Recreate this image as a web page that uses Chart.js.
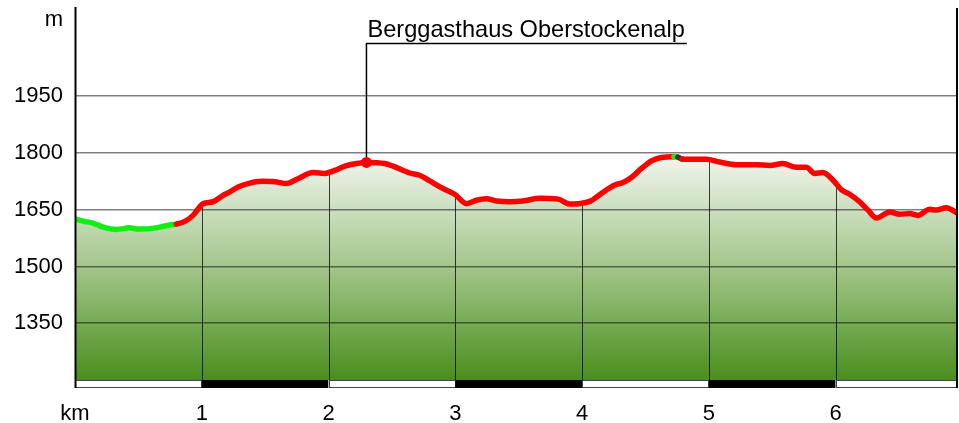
<!DOCTYPE html>
<html><head><meta charset="utf-8">
<script src="https://cdn.jsdelivr.net/npm/chart.js@4/dist/chart.umd.min.js"></script>
<style>html,body{margin:0;padding:0;background:#fff;overflow:hidden}#wrap{width:959px;height:423px;position:relative}</style>
</head><body><div id="wrap"><canvas id="c" width="959" height="423"></canvas></div>
<script>
const distanceKm = [0, 0.077, 0.130, 0.222, 0.327, 0.432, 0.485, 0.590, 0.669, 0.748, 0.800, 0.866, 0.931, 1.010, 1.089, 1.168, 1.221, 1.286, 1.365, 1.471, 1.576, 1.668, 1.759, 1.878, 1.970, 2.049, 2.128, 2.220, 2.299, 2.443, 2.509, 2.640, 2.719, 2.798, 2.903, 2.995, 3.088, 3.166, 3.245, 3.324, 3.429, 3.534, 3.666, 3.810, 3.904, 3.968, 4.061, 4.152, 4.257, 4.323, 4.389, 4.468, 4.547, 4.625, 4.724, 4.756, 4.787, 4.888, 4.980, 5.085, 5.217, 5.375, 5.479, 5.584, 5.690, 5.769, 5.834, 5.900, 5.979, 6.045, 6.110, 6.189, 6.255, 6.321, 6.426, 6.505, 6.584, 6.649, 6.741, 6.794, 6.873, 6.965];
const elevationM = [1625, 1619, 1616, 1604, 1598, 1602, 1599, 1600, 1604, 1610, 1612, 1619, 1635, 1666, 1671, 1688, 1697, 1710, 1719, 1725, 1724, 1719, 1732, 1748, 1746, 1754, 1765, 1772, 1775, 1772, 1765, 1747, 1741, 1726, 1706, 1691, 1666, 1675, 1679, 1673, 1671, 1673, 1680, 1678, 1665, 1666, 1672, 1693, 1715, 1722, 1735, 1759, 1779, 1788, 1790, 1789, 1784, 1783, 1783, 1776, 1769, 1769, 1767, 1772, 1762, 1762, 1746, 1748, 1728, 1703, 1691, 1671, 1649, 1628, 1644, 1638, 1640, 1635, 1651, 1649, 1655, 1640];
const yTicks = [1350, 1500, 1650, 1800, 1950];
const xTicks = [0, 1, 2, 3, 4, 5, 6];
const xTickLabels = ['km', '1', '2', '3', '4', '5', '6'];
const yUnit = 'm';
const greenSections = [[0, 0.8], [4.724, 4.756]];
const darkSections = [[4.756, 4.787]];
const poiName = 'Berggasthaus Oberstockenalp';
const poiKm = 2.299;
const xMax = 6.965, yMin = 1200, yMax = 2183;

const FONT = 'Liberation Sans, Arial, sans-serif';

function elevAt(k) {
  for (let i = 1; i < distanceKm.length; i++) {
    if (k <= distanceKm[i]) {
      const a = distanceKm[i - 1], b = distanceKm[i];
      const t = (k - a) / (b - a);
      return elevationM[i - 1] + t * (elevationM[i] - elevationM[i - 1]);
    }
  }
  return elevationM[elevationM.length - 1];
}
function inSections(k, secs) { return secs.some(s => k >= s[0] && k <= s[1]); }

const profilePlugin = {
  id: 'profile',
  beforeDatasetsDraw(chart) {
    const { ctx, chartArea: ca, scales: { x, y } } = chart;
    ctx.save();
    ctx.strokeStyle = 'rgba(0,0,0,0.75)';
    ctx.lineWidth = 1;
    xTicks.forEach(k => {
      if (k <= 0) return;
      const px = Math.round(x.getPixelForValue(k)) + 0.5;
      const py = y.getPixelForValue(elevAt(k));
      ctx.beginPath(); ctx.moveTo(px, py); ctx.lineTo(px, ca.bottom); ctx.stroke();
    });
    ctx.restore();
  },
  afterDatasetsDraw(chart) {
    const { ctx, chartArea: ca, scales: { x, y } } = chart;
    ctx.save();
    const barTop = ca.bottom, barH = 8;
    for (let k = 0; k < xMax; k++) {
      const x0 = x.getPixelForValue(k), x1 = x.getPixelForValue(Math.min(k + 1, xMax));
      if (k % 2 === 1) {
        ctx.fillStyle = '#000';
        ctx.fillRect(x0, barTop, x1 - x0, barH);
      } else {
        ctx.fillStyle = '#fff';
        ctx.fillRect(x0, barTop, x1 - x0, barH);
        ctx.strokeStyle = '#444'; ctx.lineWidth = 1;
        ctx.strokeRect(Math.round(x0) + 0.5, barTop + 0.5, Math.round(x1 - x0) - 1, barH - 1);
      }
    }
    ctx.fillStyle = '#000';
    ctx.fillRect(ca.left - 0.5, ca.top - 1, 2, ca.bottom + barH - ca.top + 1);
    ctx.fillRect(ca.right - 2, ca.top, 2, ca.bottom - ca.top + barH);
    ctx.font = '22px ' + FONT;
    ctx.textAlign = 'right'; ctx.textBaseline = 'middle';
    ctx.fillText(yUnit, ca.left - 12, ca.top + 12);
    const px = x.getPixelForValue(poiKm), py = y.getPixelForValue(elevAt(poiKm));
    ctx.font = '23.6px ' + FONT;
    const tw = ctx.measureText(poiName).width;
    const lineY = 43.5;
    ctx.strokeStyle = '#000'; ctx.lineWidth = 1.5;
    ctx.beginPath();
    ctx.moveTo(px, py); ctx.lineTo(px, lineY); ctx.lineTo(px + tw + 3, lineY);
    ctx.stroke();
    ctx.fillStyle = '#ff0000';
    ctx.beginPath(); ctx.arc(px, py, 5.5, 0, Math.PI * 2); ctx.fill();
    ctx.fillStyle = '#000';
    ctx.textAlign = 'left'; ctx.textBaseline = 'alphabetic';
    ctx.fillText(poiName, px + 1, 37);
    ctx.restore();
  }
};

const points = distanceKm.map((k, i) => ({ x: k, y: elevationM[i] }));

new Chart(document.getElementById('c'), {
  type: 'line',
  data: {
    datasets: [{
      data: points,
      borderWidth: 0,
      pointRadius: 0,
      cubicInterpolationMode: 'monotone',
      fill: 'start',
      order: 2,
      backgroundColor: (c) => {
        const chart = c.chart; const ca = chart.chartArea;
        if (!ca || !chart.scales.y) return 'rgba(120,170,90,0.6)';
        const top = chart.scales.y.getPixelForValue(Math.max(...elevationM));
        const g = chart.ctx.createLinearGradient(0, top, 0, ca.bottom);
        g.addColorStop(0, '#f1f5ee');
        g.addColorStop(0.5, '#a2c58a');
        g.addColorStop(1, '#4a8e1c');
        return g;
      }
    }, {
      data: points,
      borderColor: '#ff0000',
      borderWidth: 5.5,
      borderCapStyle: 'round',
      borderJoinStyle: 'round',
      pointRadius: 0,
      cubicInterpolationMode: 'monotone',
      fill: false,
      order: 1,
      segment: {
        borderColor: (c) => {
          const m = (c.p0.parsed.x + c.p1.parsed.x) / 2;
          if (inSections(m, darkSections)) return '#333333';
          if (inSections(m, greenSections)) return '#11ee11';
          return undefined;
        }
      }
    }]
  },
  options: {
    responsive: false,
    animation: false,
    devicePixelRatio: 1,
    layout: { padding: { top: 8, right: 1, left: 0, bottom: 0 } },
    plugins: { legend: { display: false }, tooltip: { enabled: false }, filler: { propagate: false, drawTime: 'beforeDraw' } },
    scales: {
      x: {
        type: 'linear', min: 0, max: xMax,
        afterBuildTicks: s => { s.ticks = xTicks.map(v => ({ value: v })); },
        afterFit: s => { s.height = 43; s.paddingLeft = 0; s.paddingRight = 0; },
        grid: { display: false }, border: { display: false },
        ticks: { font: { family: FONT, size: 22 }, color: '#000', padding: 13, maxRotation: 0, autoSkip: false,
          callback: (v, i) => xTickLabels[i] }
      },
      y: {
        type: 'linear', min: yMin, max: yMax,
        afterBuildTicks: s => { s.ticks = yTicks.map(v => ({ value: v })); },
        afterFit: s => { s.width = 75; s.paddingTop = 0; s.paddingBottom = 0; },
        grid: { color: 'rgba(0,0,0,0.5)', lineWidth: 1.5, drawTicks: false },
        border: { display: false },
        ticks: { font: { family: FONT, size: 22 }, color: '#000', padding: 12, callback: v => String(v) }
      }
    }
  },
  plugins: [profilePlugin]
});
</script></body></html>
